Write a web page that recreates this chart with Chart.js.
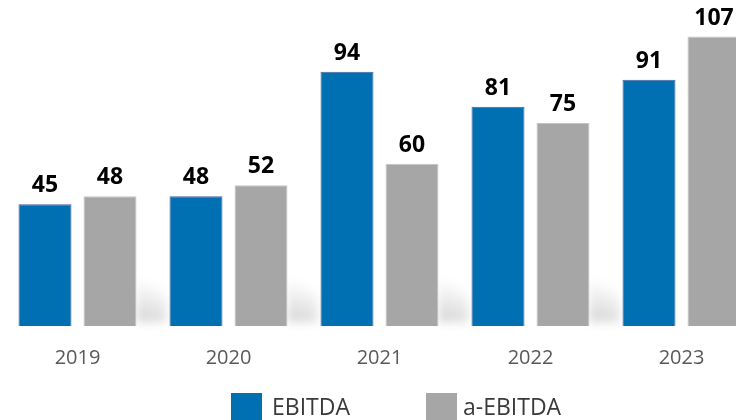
<!DOCTYPE html>
<html lang="en">
<head>
  <meta charset="UTF-8">
  <title>EBITDA</title>
  <script src="https://cdn.jsdelivr.net/npm/chart.js@4.4.0/dist/chart.umd.min.js"></script>
  <style>
    html, body { margin: 0; padding: 0; background: #fff; overflow: hidden; }
    #wrap { position: relative; width: 736px; height: 420px; overflow: hidden; }
    #chart { position: absolute; left: 0; top: 0; }
    .lg { position: absolute; top: 393px; height: 31px; font: 23px "Open Sans", sans-serif; color: #3a3a3a; }
    .lg span { position: absolute; top: 0; width: 31px; height: 31px; }
    .lg b { position: absolute; font-weight: normal; top: -3px; white-space: nowrap; }
  </style>
</head>
<body>
<div id="wrap">
  <canvas id="chart" width="760" height="420"></canvas>
  <div class="lg" style="left:231px"><span style="background:#0070b3"></span><b style="left:41px">EBITDA</b></div>
  <div class="lg" style="left:426px"><span style="background:#a6a6a6"></span><b style="left:37px">a-EBITDA</b></div>
</div>
<script>
  // values
  var years = ['2019', '2020', '2021', '2022', '2023'];
  var ebitda = [45, 48, 94, 81, 91];
  var aEbitda = [48, 52, 60, 75, 107];

  var blue = '#0070b3';
  var grey = '#a6a6a6';

  // soft floor shadow to the right of each grey bar
  var shadowPlugin = {
    id: 'floorShadow',
    beforeDatasetsDraw: function(chart) {
      var ctx = chart.ctx;
      var meta = chart.getDatasetMeta(1);
      ctx.save();
      ctx.filter = 'blur(5px)';
      meta.data.forEach(function(bar) {
        var r = bar.x + bar.width / 2;
        var b = bar.base;
        var g = ctx.createLinearGradient(r, b - 5, r + 14, b - 45);
        g.addColorStop(0, 'rgba(0,0,0,0.17)');
        g.addColorStop(1, 'rgba(0,0,0,0)');
        ctx.fillStyle = g;
        ctx.beginPath();
        ctx.moveTo(r, b - 4);
        ctx.lineTo(r + 30, b - 4);
        ctx.lineTo(r + 30, b - 30);
        ctx.lineTo(r, b - 60);
        ctx.closePath();
        ctx.fill();
      });
      ctx.restore();
    }
  };

  var valueLabels = {
    id: 'valueLabels',
    afterDatasetsDraw: function(chart) {
      var ctx = chart.ctx;
      ctx.save();
      ctx.font = 'bold 23px "Open Sans", sans-serif';
      ctx.fillStyle = '#000';
      ctx.textAlign = 'center';
      ctx.textBaseline = 'alphabetic';
      chart.data.datasets.forEach(function(ds, i) {
        chart.getDatasetMeta(i).data.forEach(function(bar, j) {
          ctx.fillText(ds.data[j], bar.x, bar.y - 12);
        });
      });
      ctx.restore();
    }
  };

  var ctx = document.getElementById('chart').getContext('2d');
  var myChart = new Chart(ctx, {
    type: 'bar',
    data: {
      labels: years,
      datasets: [{
        label: 'EBITDA',
        data: ebitda,
        backgroundColor: blue,
        borderColor: '#4a5f9c',
        borderWidth: 1
      }, {
        label: 'a-EBITDA',
        data: aEbitda,
        backgroundColor: grey,
        borderColor: '#c4c4c4',
        borderWidth: 1
      }]
    },
    options: {
      responsive: false,
      animation: false,
      categoryPercentage: 0.861,
      barPercentage: 0.815,
      layout: { padding: { left: 2, right: 3, top: 0, bottom: 30 } },
      plugins: {
        legend: { display: false },
        tooltip: { enabled: false }
      },
      scales: {
        x: {
          grid: { display: false, drawTicks: false },
          border: { display: false },
          ticks: {
            color: '#595959',
            padding: 20,
            font: { family: 'Open Sans', size: 20 }
          }
        },
        y: {
          display: false,
          min: 0,
          max: 120.5
        }
      }
    },
    plugins: [shadowPlugin, valueLabels]
  });
</script>
</body>
</html>
